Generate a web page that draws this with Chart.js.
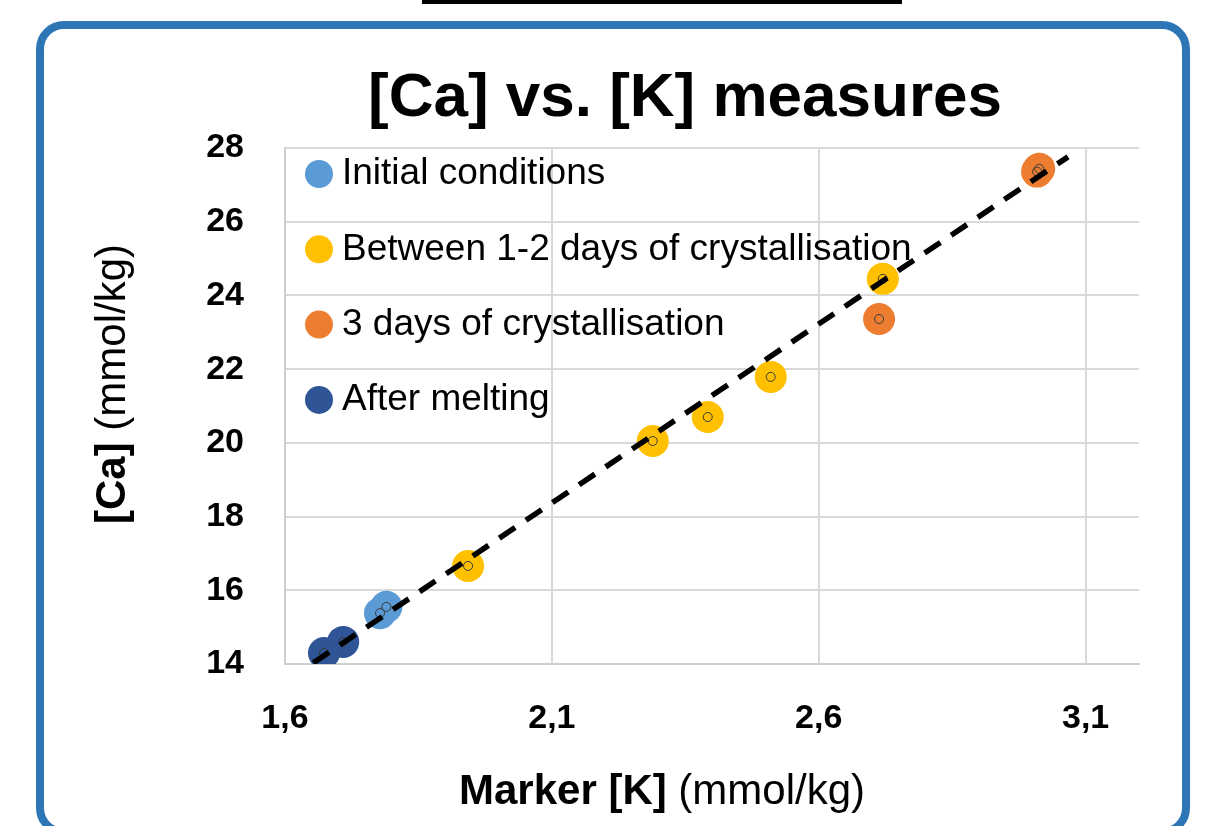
<!DOCTYPE html>
<html>
<head>
<meta charset="utf-8">
<title>[Ca] vs. [K] measures</title>
<script src="https://cdn.jsdelivr.net/npm/chart.js@4.4.1/dist/chart.umd.min.js"></script>
<style>
  html, body { margin: 0; padding: 0; background: #fff; overflow: hidden; }
  #stage { position: relative; width: 1214px; height: 826px; }
  .topbar { position: absolute; left: 422px; top: 0; width: 480px; height: 4px; background: #000; }
  .frame { position: absolute; left: 36px; top: 21px; width: 1138px; height: 799px; border: 8px solid #2E75B6; border-radius: 28px; }
  #chart { position: absolute; left: 0; top: 0; }
</style>
</head>
<body>
<div id="stage">
  <div class="topbar"></div>
  <div class="frame"></div>
  <canvas id="chart" width="1214" height="826"></canvas>
</div>
<script>
  // values: [K] on x, [Ca] on y (mmol/kg)
  const initialK = [1.778, 1.790];
  const initialCa = [15.38, 15.55];
  const between12K = [1.943, 2.289, 2.392, 2.510, 2.720];
  const between12Ca = [16.66, 20.05, 20.70, 21.79, 24.45];
  const threeDaysK = [2.713, 3.009, 3.013];
  const threeDaysCa = [23.36, 27.36, 27.44];
  const meltingK = [1.673, 1.709];
  const meltingCa = [14.30, 14.60];
  const trendK = [1.653, 3.067];
  const trendCa = [14.03, 27.76];
  const xTicks = [1.6, 2.1, 2.6, 3.1];
  const yTicks = [14, 16, 18, 20, 22, 24, 26, 28];

  const TITLE = '[Ca] vs. [K] measures';
  const SERIES = [
    { label: 'Initial conditions', xs: initialK, ys: initialCa, color: '#5B9BD5' },
    { label: 'Between 1-2 days of crystallisation', xs: between12K, ys: between12Ca, color: '#FFC000' },
    { label: '3 days of crystallisation', xs: threeDaysK, ys: threeDaysCa, color: '#ED7D31' },
    { label: 'After melting', xs: meltingK, ys: meltingCa, color: '#2F5597' },
  ];

  const FONT = '"Liberation Sans", Arial, sans-serif';
  const GRID = '#D9D9D9';

  function toPoints(xs, ys) {
    return xs.map((x, i) => ({ x, y: ys[i] }));
  }

  const seriesSets = SERIES.map((s, i) => ({
    label: s.label,
    data: toPoints(s.xs, s.ys),
    backgroundColor: s.color,
    borderColor: s.color,
    borderWidth: 0,
    pointRadius: 16,
    pointHoverRadius: 16,
    order: 5 + i,
  }));

  const allK = SERIES.flatMap(s => s.xs);
  const allCa = SERIES.flatMap(s => s.ys);

  const centerMarks = {
    label: 'all',
    data: toPoints(allK, allCa),
    backgroundColor: 'rgba(0,0,0,0)',
    borderColor: '#3a3a3a',
    borderWidth: 1,
    pointRadius: 4.5,
    order: 1,
  };

  const trendSet = {
    type: 'line',
    label: 'trend',
    data: toPoints(trendK, trendCa),
    borderColor: '#000',
    borderWidth: 5.5,
    borderDash: [19, 13],
    borderCapStyle: 'butt',
    pointRadius: 0,
    fill: false,
    order: 0,
  };

  // title, in-plot legend and the mixed bold/normal axis titles
  const decorations = {
    id: 'decorations',
    afterDraw(chart) {
      const { ctx, chartArea } = chart;
      ctx.save();

      ctx.fillStyle = '#000';
      ctx.font = `bold 62px ${FONT}`;
      ctx.textAlign = 'center';
      ctx.textBaseline = 'alphabetic';
      ctx.fillText(TITLE, 685, 116);

      ctx.font = `37px ${FONT}`;
      ctx.textBaseline = 'middle';
      ctx.textAlign = 'left';
      SERIES.forEach((s, i) => {
        const y = chartArea.top + 26 + i * 75.3;
        ctx.fillStyle = s.color;
        ctx.beginPath();
        ctx.arc(chartArea.left + 34, y, 14, 0, Math.PI * 2);
        ctx.fill();
        ctx.fillStyle = '#000';
        ctx.fillText(s.label, chartArea.left + 57, y);
      });

      function mixed(boldText, plainText, cx, cy, angle) {
        ctx.save();
        ctx.translate(cx, cy);
        ctx.rotate(angle);
        ctx.textBaseline = 'alphabetic';
        ctx.textAlign = 'left';
        ctx.font = `bold 42px ${FONT}`;
        const wb = ctx.measureText(boldText).width;
        ctx.font = `42px ${FONT}`;
        const wp = ctx.measureText(plainText).width;
        const start = -(wb + wp) / 2;
        ctx.fillStyle = '#000';
        ctx.font = `bold 42px ${FONT}`;
        ctx.fillText(boldText, start, 0);
        ctx.font = `42px ${FONT}`;
        ctx.fillText(plainText, start + wb, 0);
        ctx.restore();
      }
      mixed('Marker [K] ', '(mmol/kg)', 662, 804, 0);
      mixed('[Ca] ', '(mmol/kg)', 125, 384, -Math.PI / 2);

      ctx.restore();
    }
  };

  new Chart(document.getElementById('chart'), {
    type: 'scatter',
    data: { datasets: [trendSet, centerMarks, ...seriesSets] },
    options: {
      responsive: false,
      animation: false,
      devicePixelRatio: 1,
      layout: { padding: { left: 0, right: 75, top: 148, bottom: 0 } },
      plugins: {
        legend: { display: false },
        tooltip: { enabled: false },
        title: { display: false },
      },
      scales: {
        x: {
          type: 'linear',
          min: 1.6,
          max: 3.2,
          afterBuildTicks: scale => { scale.ticks = xTicks.map(v => ({ value: v })); },
          afterFit: scale => { scale.height = 162; },
          grid: { color: GRID, lineWidth: 2, drawTicks: false },
          border: { color: '#CFCFCF', width: 2 },
          ticks: {
            padding: 34,
            color: '#000',
            font: { family: FONT, size: 34, weight: 'bold' },
            callback: v => Number(v).toFixed(1).replace('.', ','),
          },
        },
        y: {
          type: 'linear',
          min: 14,
          max: 28,
          afterBuildTicks: scale => { scale.ticks = yTicks.map(v => ({ value: v })); },
          afterFit: scale => { scale.width = 285; },
          grid: { color: GRID, lineWidth: 2, drawTicks: false },
          border: { color: '#CFCFCF', width: 2 },
          ticks: {
            padding: 41,
            color: '#000',
            font: { family: FONT, size: 34, weight: 'bold' },
          },
        },
      },
    },
    plugins: [decorations],
  });
</script>
</body>
</html>
